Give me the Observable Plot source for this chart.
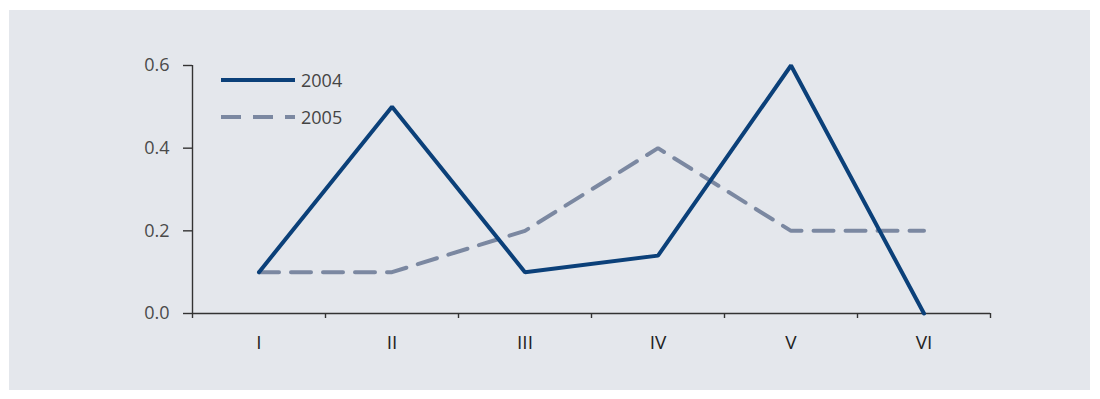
<!DOCTYPE html>
<html>
<head>
<meta charset="utf-8">
<script src="https://cdn.jsdelivr.net/npm/d3@7"></script>
<script src="https://cdn.jsdelivr.net/npm/@observablehq/plot@0.6"></script>
<style>
  body { margin: 0; background: #ffffff; }
  #panel { position: absolute; left: 9px; top: 10px; width: 1081px; height: 380px; background: #e4e7ec; }
  #chart { position: absolute; left: 0; top: 0; }
  #legend { position: absolute; left: 212px; top: 58px; font: 400 18px "Open Sans", sans-serif; color: #444; }
  .item { display: flex; align-items: center; height: 24px; margin-bottom: 13px; }
  .item svg { margin-right: 6px; }
</style>
</head>
<body>
<div id="panel">
  <div id="chart"></div>
  <div id="legend"></div>
</div>
<script>
// Monthly values per year (Roman numerals = months I–VI)
const categories = ["I", "II", "III", "IV", "V", "VI"];
const series = ["2004", "2005"];
const values2004 = [0.1, 0.5, 0.1, 0.14, 0.6, 0.0];
const values2005 = [0.1, 0.1, 0.2, 0.4, 0.2, 0.2];
const yTicks = [0, 0.2, 0.4, 0.6];
const colors = ["#0b4079", "#7b88a1"];
const dashes = [null, "20 12"];

const rows = [values2004, values2005].flatMap((vals, s) =>
  vals.map((v, i) => ({ series: series[s], pos: i + 0.5, cat: categories[i], value: v }))
);
const bounds = d3.range(categories.length + 1);
const centers = categories.map((c, i) => i + 0.5);

const axisStyle = { stroke: "#333", strokeWidth: 1.4 };

const chart = Plot.plot({
  width: 1081,
  height: 380,
  marginLeft: 183,
  marginRight: 100,
  marginTop: 55,
  marginBottom: 77,
  style: { background: "transparent", fontFamily: "'Open Sans', sans-serif", fontSize: "18px", fontWeight: 400, color: "#444" },
  x: { domain: [0, categories.length], axis: null, label: null },
  y: { domain: [0, 0.6], axis: null, label: null },
  marks: [
    Plot.axisY({ ticks: yTicks, tickFormat: ".1f", tickSize: 9, tickPadding: 14, label: null, ...axisStyle, fill: "#4a4a4a" }),
    Plot.axisX({ ticks: bounds, tickFormat: () => "", tickSize: 5, label: null, ...axisStyle }),
    Plot.axisX({ ticks: centers, tickFormat: (d) => categories[Math.floor(d)], tickSize: 0, tickPadding: 22, label: null, fill: "#222", fontSize: 19 }),
    Plot.ruleY([0], axisStyle),
    Plot.ruleX([0], { y1: 0, y2: 0.6, ...axisStyle }),
    // 2005 first so the 2004 line sits on top at crossings
    Plot.line(rows.filter((d) => d.series === series[1]), {
      x: "pos", y: "value", stroke: colors[1], strokeWidth: 4, strokeDasharray: dashes[1], strokeLinejoin: "miter"
    }),
    Plot.line(rows.filter((d) => d.series === series[0]), {
      x: "pos", y: "value", stroke: colors[0], strokeWidth: 4, strokeLinejoin: "miter"
    })
  ]
});
document.getElementById("chart").appendChild(chart);

// Legend inside the plot area
const legend = document.getElementById("legend");
series.forEach((name, s) => {
  const item = document.createElement("div");
  item.className = "item";
  const dash = dashes[s] ? `stroke-dasharray="${dashes[s]}"` : "";
  item.innerHTML = `<svg width="74" height="8"><line x1="0" y1="4" x2="74" y2="4" stroke="${colors[s]}" stroke-width="4" ${dash}/></svg><span>${name}</span>`;
  legend.appendChild(item);
});
</script>
</body>
</html>
